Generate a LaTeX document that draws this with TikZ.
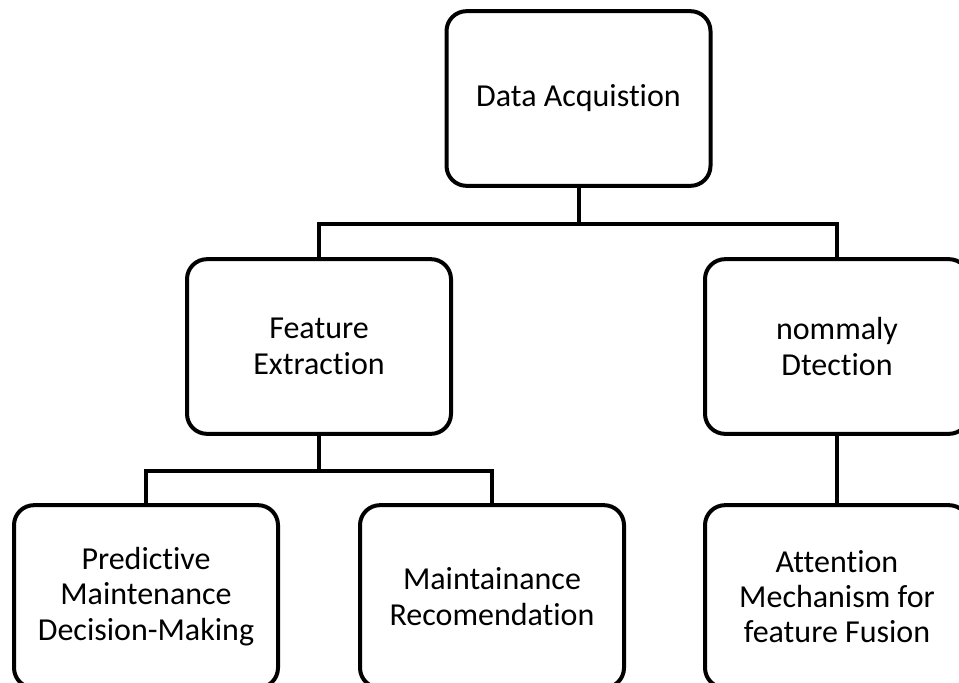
\documentclass[tikz,border=0pt]{standalone}
\usepackage{fontspec}
\setmainfont[Ligatures=NoCommon]{Carlito}
\usepackage{tikz}
\usetikzlibrary{positioning}

\begin{document}
\begin{tikzpicture}[x=0.75pt, y=-0.75pt,
        box/.style={draw, line width=3pt, rounded corners=15pt, align=center,
            minimum width=198pt, minimum height=131pt, inner sep=0pt,
            font=\fontsize{24}{26.5}\selectfont},
        lowbox/.style={box, minimum height=137pt},
        link/.style={line width=3pt}]
            \useasboundingbox (0,0) rectangle (959,682);
            \clip (0,0) rectangle (959,682);
            \node[box] at (578.5,98.5) (data) {Data Acquistion};
            \node[box] at (319,346.5) (feat) {Feature\\Extraction};
            \node[box] at (837,346.5) (anom) {nommaly\\Dtection};
            \node[lowbox] at (146,596.5) (pred) {Predictive\\Maintenance\\Decision-Making};
            \node[lowbox] at (492,596.5) (maint) {Maintainance\\Recomendation};
            \node[lowbox] at (837,596.5) (attn) {Attention\\Mechanism for\\feature Fusion};
            \draw[link] (data.south) -- ++(0,36) coordinate (j1);
            \draw[link] (j1) -| (feat.north);
            \draw[link] (j1) -| (anom.north);
            \draw[link] (feat.south) -- ++(0,35) coordinate (j2);
            \draw[link] (j2) -| (pred.north);
            \draw[link] (j2) -| (maint.north);
            \draw[link] (anom.south) -- (attn.north);
        \end{tikzpicture}
\end{document}
